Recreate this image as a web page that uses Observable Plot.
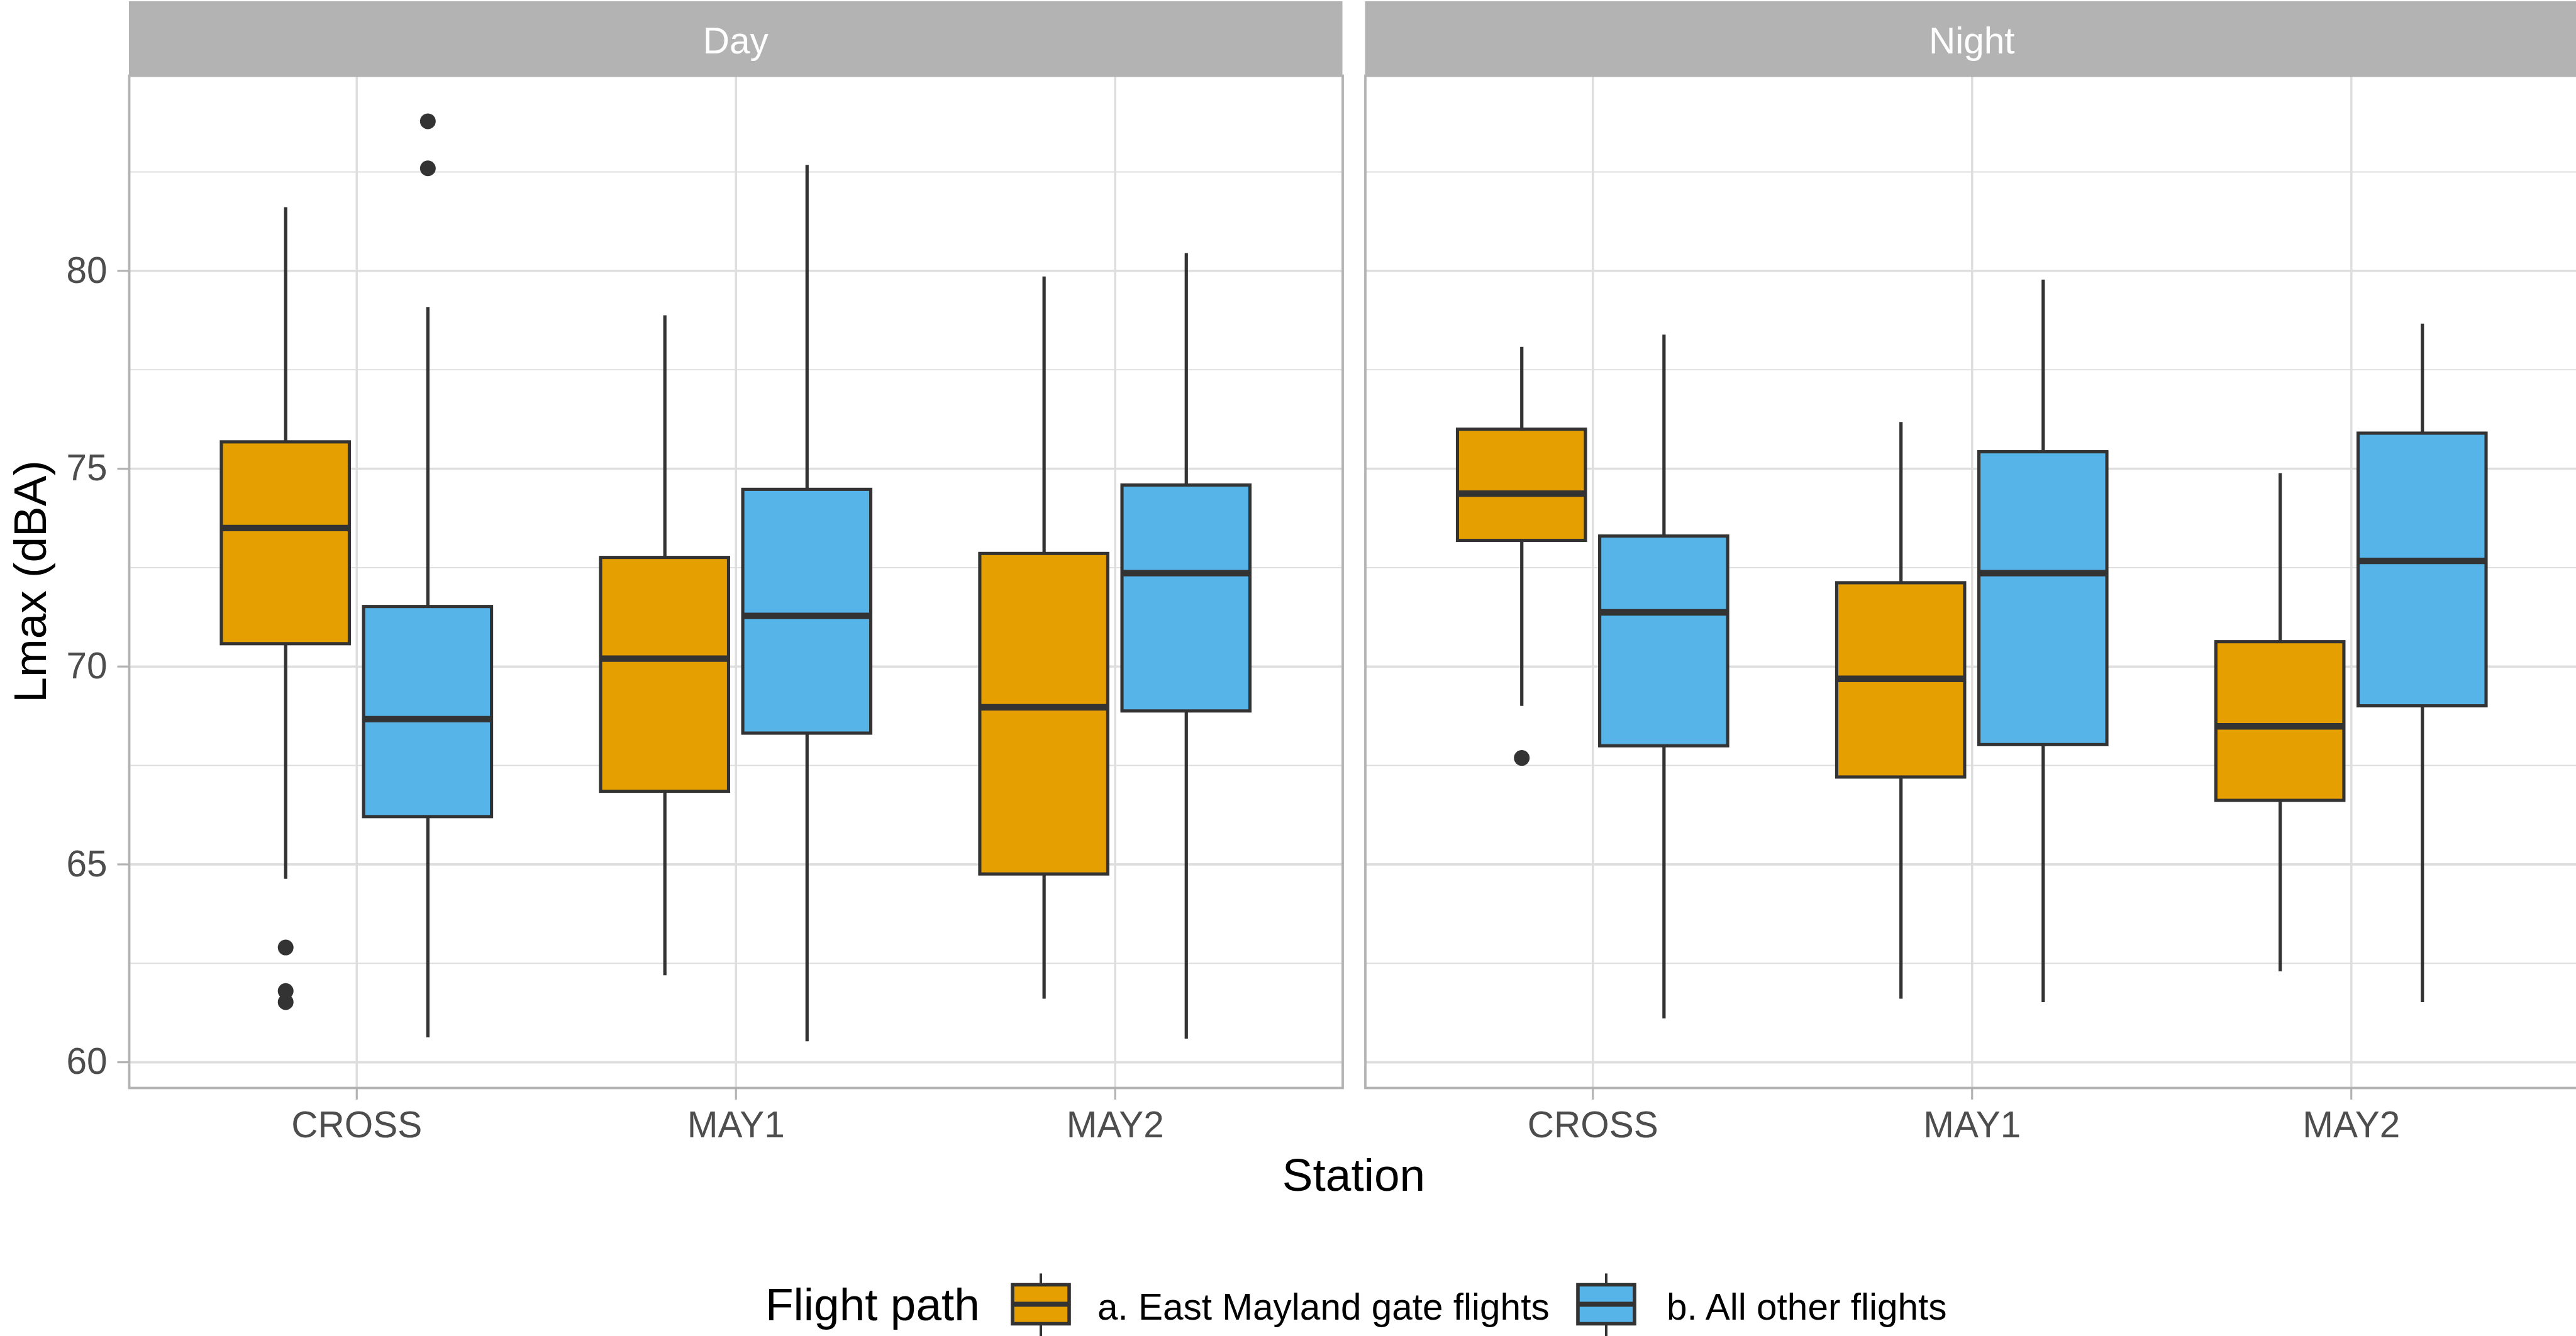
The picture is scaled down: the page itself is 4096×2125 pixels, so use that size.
<!DOCTYPE html>
<html>
<head>
<meta charset="utf-8">
<script src="https://cdn.jsdelivr.net/npm/d3@7"></script>
<script src="https://cdn.jsdelivr.net/npm/@observablehq/plot@0.6"></script>
<style>
html, body { margin: 0; padding: 0; background: #ffffff; overflow: hidden; width: 4096px; height: 2125px; }
#wrap { position: relative; width: 4096px; height: 2125px; overflow: hidden; font-family: "Liberation Sans", Arial, sans-serif; }
#chart { position: absolute; left: 0; top: 0; width: 4100px; }
#chart svg { max-width: none !important; }
#overlay { position: absolute; left: 0; top: 0; }
</style>
</head>
<body>
<div id="wrap">
  <div id="chart"></div>
  <svg id="overlay" width="4096" height="2125"></svg>
</div>
<script>
// ---------------- DATA ----------------
const periods = ["Day", "Night"];
const stations = ["CROSS", "MAY1", "MAY2"];
const flightPaths = ["a. East Mayland gate flights", "b. All other flights"];
const fillColors = ["#E69F00", "#56B4E9"];

const boxPeriod  = ["Day", "Day", "Day", "Day", "Day", "Day",
                    "Night", "Night", "Night", "Night", "Night", "Night"];
const boxStation = ["CROSS", "CROSS", "MAY1", "MAY1", "MAY2", "MAY2",
                    "CROSS", "CROSS", "MAY1", "MAY1", "MAY2", "MAY2"];
const boxPath    = [flightPaths[0], flightPaths[1], flightPaths[0], flightPaths[1], flightPaths[0], flightPaths[1],
                    flightPaths[0], flightPaths[1], flightPaths[0], flightPaths[1], flightPaths[0], flightPaths[1]];
const whiskerLow  = [64.63, 60.62, 62.19, 60.52, 61.60, 60.59, 69.00, 61.10, 61.60, 61.51, 62.29, 61.51];
const lowerQuart  = [70.57, 66.20, 66.84, 68.31, 64.75, 68.87, 73.18, 67.99, 67.20, 68.02, 66.61, 69.00];
const medianVal   = [73.50, 68.67, 70.20, 71.28, 68.97, 72.36, 74.37, 71.37, 69.69, 72.36, 68.49, 72.67];
const upperQuart  = [75.67, 71.51, 72.75, 74.47, 72.85, 74.58, 75.99, 73.29, 72.11, 75.42, 70.62, 75.89];
const whiskerHigh = [81.60, 79.08, 78.87, 82.67, 79.85, 80.44, 78.07, 78.38, 76.17, 79.77, 74.88, 78.66];

const outlierPeriod  = ["Day", "Day", "Day", "Day", "Day", "Night"];
const outlierStation = ["CROSS", "CROSS", "CROSS", "CROSS", "CROSS", "CROSS"];
const outlierPath    = [flightPaths[0], flightPaths[0], flightPaths[0], flightPaths[1], flightPaths[1], flightPaths[0]];
const outlierValue   = [62.90, 61.80, 61.52, 83.78, 82.59, 67.69];

const yTicks = [60, 65, 70, 75, 80];
const yTickLabels = ["60", "65", "70", "75", "80"];
const minorTicks = [62.5, 67.5, 72.5, 77.5, 82.5];
const yDomain = [59.35, 84.93];

// ---------------- LAYOUT ----------------
const W = 4100, H = 1930;
const mL = 205, mR = 0, mT = 120, mB = 200;
const panelGap = 36;
const bw = (W - mL - mR - panelGap) / 2;
const padInner = panelGap / (bw + panelGap);

const dodge = 0.375, halfBox = 0.16875;
function xCenter(station, path) {
  return stations.indexOf(station) + 1 + (flightPaths.indexOf(path) - 0.5) * dodge;
}

const boxes = boxPeriod.map((p, i) => {
  const xc = xCenter(boxStation[i], boxPath[i]);
  return {period: p, station: boxStation[i], flight: boxPath[i],
          lo: whiskerLow[i], q1: lowerQuart[i], med: medianVal[i], q3: upperQuart[i], hi: whiskerHigh[i],
          xc, xl: xc - halfBox, xr: xc + halfBox};
});
const outliers = outlierValue.map((v, i) => ({
  period: outlierPeriod[i], flight: outlierPath[i], value: v,
  xc: xCenter(outlierStation[i], outlierPath[i])
}));

const dark = "#333333";
const chart = Plot.plot({
  width: W, height: H,
  marginLeft: mL, marginRight: mR, marginTop: mT, marginBottom: mB,
  style: {fontFamily: "'Liberation Sans', Arial, sans-serif", background: "white", overflow: "visible", maxWidth: "none"},
  fx: {domain: periods, paddingInner: padInner, paddingOuter: 0, axis: null, label: null, round: false},
  x: {type: "linear", domain: [0.4, 3.6], label: null, axis: null},
  y: {domain: yDomain, label: null, axis: null},
  color: {domain: flightPaths, range: fillColors},
  marks: [
    Plot.gridY(minorTicks, {stroke: "#DEDEDE", strokeOpacity: 1, strokeWidth: 1.9}),
    Plot.gridY(yTicks, {stroke: "#DEDEDE", strokeOpacity: 1, strokeWidth: 3.6}),
    Plot.gridX([1, 2, 3], {stroke: "#DEDEDE", strokeOpacity: 1, strokeWidth: 3.6}),
    Plot.ruleX(boxes, {fx: "period", x: "xc", y1: "q3", y2: "hi", stroke: dark, strokeWidth: 5.2}),
    Plot.ruleX(boxes, {fx: "period", x: "xc", y1: "lo", y2: "q1", stroke: dark, strokeWidth: 5.2}),
    Plot.rect(boxes, {fx: "period", x1: "xl", x2: "xr", y1: "q1", y2: "q3", fill: "flight", stroke: dark, strokeWidth: 5.1}),
    Plot.ruleY(boxes, {fx: "period", y: "med", x1: "xl", x2: "xr", stroke: dark, strokeWidth: 10.4}),
    Plot.dot(outliers, {fx: "period", x: "xc", y: "value", r: 12.5, fill: dark, stroke: null}),
    Plot.frame({stroke: "#B3B3B3", strokeWidth: 3.8}),
    Plot.axisY(yTicks, {anchor: "left", tickSize: 18.5, tickPadding: 16.5, stroke: "#B3B3B3", strokeWidth: 3.2,
                        color: "#4D4D4D", fontSize: 58.5, label: null,
                        tickFormat: d => yTickLabels[yTicks.indexOf(d)]}),
    Plot.axisX([1, 2, 3], {anchor: "bottom", tickSize: 19, tickPadding: 18, stroke: "#B3B3B3", strokeWidth: 3.2,
                           color: "#4D4D4D", fontSize: 58.5, label: null, tickFormat: d => stations[d - 1]})
  ]
});
chart.style.maxWidth = "none";
document.getElementById("chart").appendChild(chart);

// ---------------- STRIPS, TITLES, LEGEND ----------------
const ov = d3.select("#overlay");
const font = "'Liberation Sans', Arial, sans-serif";
periods.forEach((p, i) => {
  const x0 = mL + i * (bw + panelGap);
  ov.append("rect").attr("x", x0).attr("y", 2).attr("width", bw).attr("height", mT - 2).attr("fill", "#B3B3B3");
  ov.append("text").attr("x", x0 + bw / 2).attr("y", 84.5).attr("text-anchor", "middle")
    .attr("font-family", font).attr("font-size", 58.5).attr("fill", "white").text(p);
});

ov.append("text").attr("x", mL + (W - mL - mR) / 2).attr("y", 1894).attr("text-anchor", "middle")
  .attr("font-family", font).attr("font-size", 73).attr("fill", "black").text("Station");
ov.append("text").attr("transform", `translate(73,${(mT + H - mB) / 2}) rotate(-90)`).attr("text-anchor", "middle")
  .attr("font-family", font).attr("font-size", 73).attr("fill", "black").text("Lmax (dBA)");

// legend
const legendY = 2074.5;
ov.append("text").attr("x", 1217).attr("y", 2100).attr("font-family", font).attr("font-size", 73)
  .attr("fill", "black").text("Flight path");
const keyX = [1610, 2509], labelX = [1745, 2650];
flightPaths.forEach((fp, i) => {
  const kx = keyX[i], kw = 90, cx = kx + kw / 2;
  ov.append("line").attr("x1", cx).attr("x2", cx).attr("y1", legendY - 49).attr("y2", legendY - 31)
    .attr("stroke", dark).attr("stroke-width", 4);
  ov.append("line").attr("x1", cx).attr("x2", cx).attr("y1", legendY + 31).attr("y2", legendY + 52)
    .attr("stroke", dark).attr("stroke-width", 4);
  ov.append("rect").attr("x", kx).attr("y", legendY - 31).attr("width", kw).attr("height", 62)
    .attr("fill", fillColors[i]).attr("stroke", dark).attr("stroke-width", 5.6);
  ov.append("line").attr("x1", kx).attr("x2", kx + kw).attr("y1", legendY).attr("y2", legendY)
    .attr("stroke", dark).attr("stroke-width", 8);
  ov.append("text").attr("x", labelX[i]).attr("y", 2099).attr("font-family", font).attr("font-size", 58.5)
    .attr("fill", "black").text(fp);
});
</script>
</body>
</html>
